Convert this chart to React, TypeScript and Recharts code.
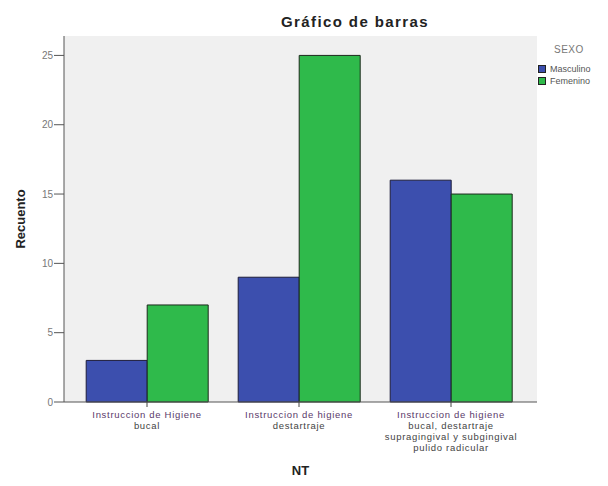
import React from "react";
import { BarChart, Bar, XAxis, YAxis, CartesianGrid, Legend } from "recharts";

// counts per NT group, split by SEXO
const categories = [
  "Instruccion de Higiene|bucal",
  "Instruccion de higiene|destartraje",
  "Instruccion de higiene|bucal, destartraje|supragingival y subgingival|pulido radicular",
];
const masculino = [3, 9, 16];
const femenino = [7, 25, 15];
const yTicks = [0, 5, 10, 15, 20, 25];

const BLUE = "#3c4fae";
const GREEN = "#2fba4b";
const FONT = "'Liberation Sans', Arial, sans-serif";

const rows = categories.map((c, i) => ({
  nt: c,
  Masculino: masculino[i],
  Femenino: femenino[i],
}));

function NtTick(props: any) {
  const { x, y, payload } = props;
  const lines = String(payload.value).split("|");
  return (
    <g transform={`translate(${x},${y})`}>
      {lines.map((l: string, i: number) => (
        <text
          key={i}
          x={0}
          y={i * 11}
          dy={9}
          textAnchor="middle"
          fontSize={9.5}
          letterSpacing={0.7}
          fontFamily={FONT}
          fill={i === 0 ? "#5a3a6a" : "#444"}
        >
          {l}
        </text>
      ))}
    </g>
  );
}

function SexoLegend() {
  const items = [
    { name: "Masculino", color: BLUE },
    { name: "Femenino", color: GREEN },
  ];
  return (
    <div style={{ fontFamily: FONT, color: "#555" }}>
      <div style={{ fontSize: 10, lineHeight: "12px", marginLeft: 16, marginBottom: 7, color: "#777", letterSpacing: 0.5 }}>
        SEXO
      </div>
      {items.map((it) => (
        <div key={it.name} style={{ display: "flex", alignItems: "center", height: 12, fontSize: 9 }}>
          <span
            style={{
              width: 6,
              height: 6,
              background: it.color,
              border: "1px solid #222",
              marginRight: 4,
            }}
          />
          {it.name}
        </div>
      ))}
    </div>
  );
}

export default function App() {
  return (
    <div style={{ position: "relative", width: 608, height: 486, background: "#fff", fontFamily: FONT }}>
      <style>{"body{margin:0}"}</style>
      <BarChart
        width={608}
        height={486}
        data={rows}
        margin={{ top: 36, right: 71, bottom: 0, left: 0 }}
        barCategoryGap="10%"
        barGap={0}
      >
        <CartesianGrid fill="#f0f0f0" stroke="none" />
        <XAxis
          dataKey="nt"
          interval={0}
          padding={{ left: 7, right: 10 }}
          tick={<NtTick />}
          tickLine={{ stroke: "#444" }}
          tickSize={5}
          axisLine={{ stroke: "#555" }}
          height={84}
          label={{
            value: "NT",
            position: "insideBottom",
            offset: 11,
            fontSize: 13,
            fontWeight: "bold",
            fill: "#222",
            fontFamily: FONT,
          }}
        />
        <XAxis
          xAxisId="top"
          dataKey="nt"
          orientation="top"
          height={0}
          padding={{ left: 7, right: 10 }}
          tick={false}
          tickLine={false}
          axisLine={{ stroke: "#555" }}
        />
        <YAxis
          width={64}
          domain={[0, 26.4]}
          ticks={yTicks}
          tick={{ fontSize: 10, fill: "#777", fontFamily: FONT }}
          tickLine={{ stroke: "#555" }}
          tickSize={10}
          tickMargin={1}
          axisLine={{ stroke: "#555" }}
          label={{
            value: "Recuento",
            angle: -90,
            position: "insideLeft",
            offset: 20,
            fontSize: 13,
            fontWeight: "bold",
            fill: "#222",
            fontFamily: FONT,
            style: { textAnchor: "middle" },
          }}
        />
        <YAxis
          yAxisId="right"
          orientation="right"
          width={0}
          domain={[0, 26.4]}
          tick={false}
          tickLine={false}
          axisLine={{ stroke: "#555" }}
        />
        <Legend
          content={<SexoLegend />}
          layout="horizontal"
          verticalAlign="middle"
          align="center"
          wrapperStyle={{ left: 538, top: 44, width: 70 }}
        />
        <Bar dataKey="Masculino" fill={BLUE} stroke="#1c1c3a" strokeWidth={1} isAnimationActive={false} />
        <Bar dataKey="Femenino" fill={GREEN} stroke="#1c2a1c" strokeWidth={1} isAnimationActive={false} />
      </BarChart>
      <div
        style={{
          position: "absolute",
          left: 0,
          width: 710,
          top: 13,
          textAlign: "center",
          fontSize: 15,
          letterSpacing: 1.4,
          fontWeight: "bold",
          color: "#222",
        }}
      >
        Gráfico de barras
      </div>
    </div>
  );
}
